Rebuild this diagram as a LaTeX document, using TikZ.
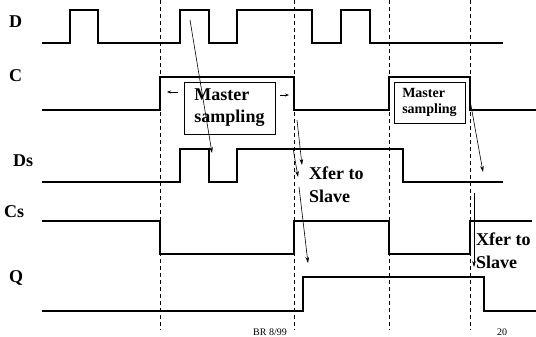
\documentclass[tikz,border=0pt]{standalone}
\usepackage{fontspec}
\setmainfont{Liberation Serif}
\usepackage{xcolor}
\usepackage{tikz}
\usetikzlibrary{arrows.meta}

\tikzset{
  wave/.style={line width=1.4pt, line join=miter},
  edgeline/.style={dash pattern=on 4pt off 3pt, line width=0.8pt},
  flow/.style={-{Stealth[length=6pt,width=3.6pt]}, line width=0.6pt},
  tiny/.style={-{Stealth[length=4pt,width=3pt]}, line width=0.7pt},
  sig/.style={anchor=base west, inner sep=0pt, font=\bfseries\fontsize{18}{22}\selectfont},
  note/.style={anchor=base west, inner sep=0pt, align=left, font=\bfseries\fontsize{18}{22.5}\selectfont},
}

\begin{document}
\begin{tikzpicture}[x=1pt, y=-1pt, >=stealth]
  \useasboundingbox (0,0) rectangle (536,337);
  % signal names
  \node[sig] (nD)  at (9,28)   {D};
  \node[sig] (nC)  at (9,82)   {C};
  \node[sig] (nDs) at (13,166) {Ds};
  \node[sig] (nCs) at (4,217)  {Cs};
  \node[sig] (nQ)  at (9,282)  {Q};
  % clock edges
  \foreach \xe in {160,294,389,470}
    \draw[edgeline] (\xe,0) -- (\xe,330);
  % waveforms
  \draw[wave] (42,43) -- (70,43) -- (70,10) -- (98,10) -- (98,43) -- (180,43) -- (180,10)
    -- (209,10) -- (209,43) -- (237,43) -- (237,10) -- (312,10) -- (312,43) -- (341,43)
    -- (341,10) -- (370,10) -- (370,43) -- (503,43);
  \draw[wave] (42,110) -- (160,110) -- (160,77) -- (294,77) -- (294,110) -- (389,110)
    -- (389,77) -- (470,77) -- (470,110) -- (536,110);
  \draw[wave] (42,182) -- (180,182) -- (180,149) -- (209,149) -- (209,182) -- (237,182)
    -- (237,149) -- (403,149) -- (403,182) -- (503,182);
  \draw[line width=2.2pt] (65,182) -- (70,182);
  \draw[wave] (42,221) -- (160,221) -- (160,254) -- (294,254) -- (294,221) -- (389,221)
    -- (389,254) -- (470,254) -- (470,221) -- (532,221);
  \draw[wave] (42,311) -- (303,311) -- (303,277) -- (484,277) -- (484,311) -- (536,311);
  % master sampling windows
  \node[draw, line width=0.6pt, minimum width=91pt, minimum height=52pt, inner sep=0pt,
    align=left, font=\bfseries\fontsize{18}{22}\selectfont] (box1) at (229.5,108)
    {Master\\sampling};
  \node[draw, line width=0.6pt, minimum width=71pt, minimum height=41pt, inner sep=0pt,
    align=left, font=\bfseries\fontsize{14}{16}\selectfont] (box2) at (429.5,102.5)
    {Master\\sampling};
  \coordinate (l1) at (178,92);  \coordinate (l2) at (167,92);
  \coordinate (r1) at (280,95);  \coordinate (r2) at (289,95);
  \draw[tiny] (l1) -- (l2);
  \draw[tiny] (r1) -- (r2);
  % transfer labels (base is the last line)
  \node[note] (xf1) at (309,202) {Xfer to\\Slave};
  \node[note] (xf2) at (476,268) {Xfer to\\Slave};
  % causal arrows
  \coordinate (a1) at (190,20);  \coordinate (b1) at (212,153);
  \coordinate (a2) at (297,120); \coordinate (b2) at (302,165);
  \coordinate (a3) at (293,148); \coordinate (b3) at (298,177);
  \coordinate (a4) at (299,187); \coordinate (b4) at (308,263);
  \coordinate (a5) at (470,100); \coordinate (b5) at (483,172);
  \coordinate (a6) at (474,193); \coordinate (b6) at (474,267);
  \foreach \i in {1,...,6}
    \draw[flow] (a\i) -- (b\i);
  % footer
  \node[anchor=base, inner sep=0pt, font=\fontsize{10}{12}\selectfont] (ft1) at (270,335.5) {BR 8/99};
  \node[anchor=base, inner sep=0pt, font=\fontsize{10}{12}\selectfont] (ft2) at (502,335.5) {20};
\end{tikzpicture}
\end{document}
